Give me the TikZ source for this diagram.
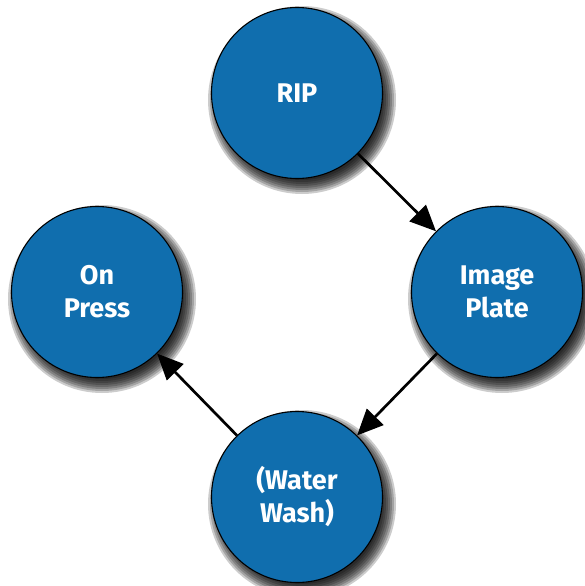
\documentclass[tikz,border=0pt]{standalone}
\usepackage{fontspec}
\setmainfont{Fira Sans}
\usetikzlibrary{arrows.meta}

\definecolor{stepblue}{RGB}{16,110,174}

\tikzstyle{stage}=[circle,draw=black,line width=1.1pt,fill=stepblue,minimum size=171pt,inner sep=0pt,
  text=white,align=center,font=\fontsize{27}{33}\selectfont\bfseries]
\tikzstyle{flow}=[line width=2.7pt,-{Triangle[length=26pt,width=23pt]}]

\begin{document}
\begin{tikzpicture}[x=1pt,y=-1pt]

\useasboundingbox (0,0) rectangle (585,586);

% soft shadows behind the circles
\foreach \cx/\cy in {297/93, 497/292, 297/497, 97/292}
  \foreach \r in {94,92,...,80}
    \fill[black,opacity=0.2] (\cx+5,\cy+7) circle (\r);

\node [stage] (rip) at (297,93) {RIP};
\node [stage] (plate) at (497,292) {Image\\Plate};
\node [stage] (wash) at (297,497) {(Water\\Wash)};
\node [stage] (press) at (97,292) {On\\Press};

\draw[flow] (rip) -- (plate);

\draw[flow] (plate) -- (wash);

\draw[flow] (wash) -- (press);

\end{tikzpicture}
\end{document}
